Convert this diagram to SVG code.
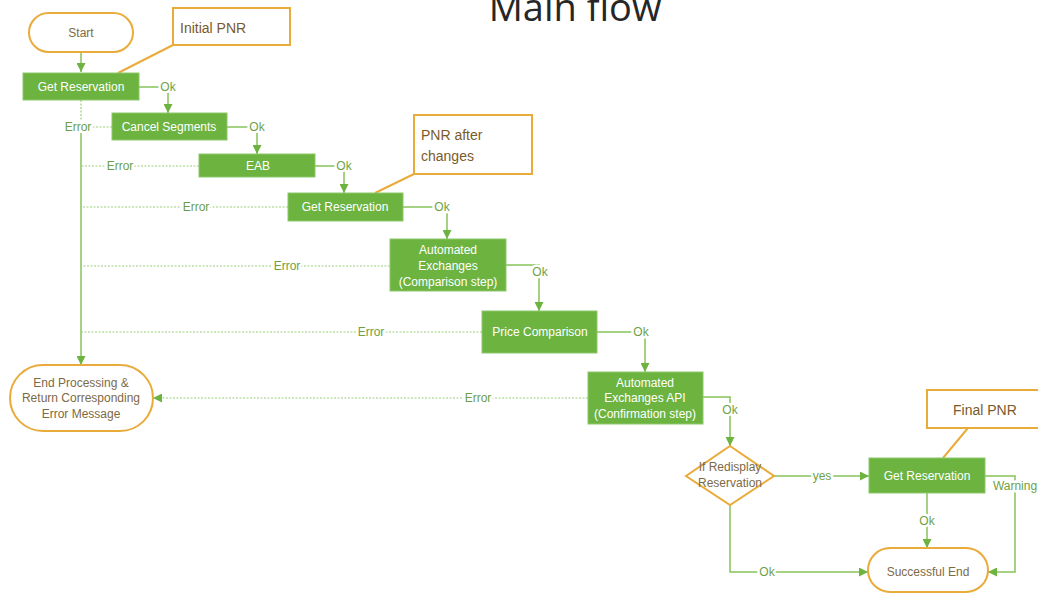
<svg xmlns="http://www.w3.org/2000/svg" width="1038" height="594" viewBox="0 0 1038 594">
<defs>
<marker id="arr" markerUnits="userSpaceOnUse" markerWidth="9" markerHeight="9" refX="9" refY="4.5" orient="auto">
<path d="M0,0 L9,4.5 L0,9 z" fill="#6CB33F"/>
</marker>
<style>
text{font-family:"Liberation Sans",Arial,sans-serif;font-size:12px;text-anchor:middle}
.box{fill:#6CB33F;stroke:#8cc86a;stroke-width:1}
.box-t{fill:#ffffff}
.pill{fill:#ffffff;stroke:#E9AB3A;stroke-width:2}
.pill-t{fill:#7d6a45}
.call{fill:#ffffff;stroke:#E9AB3A;stroke-width:2}
.call-t{fill:#7a5a2a;font-size:14px;text-anchor:start}
.cl{stroke:#E9AB3A;stroke-width:2;fill:none}
.ln{stroke:#86c25a;stroke-width:1.5;fill:none}
.dl{stroke:#9ccf7c;stroke-width:1.2;stroke-dasharray:2 1.5;fill:none}
.lb{fill:#6e9f45;stroke:#ffffff;stroke-width:5;paint-order:stroke;stroke-linejoin:round}
</style>
</defs>
<rect width="1038" height="594" fill="#ffffff"/>
<text x="575" y="21" style="font-family:'Open Sans','Noto Sans',sans-serif;font-size:38px;fill:#262626">Main flow</text>

<g id="connectors">
<path class="ln" d="M81,52 V72" marker-end="url(#arr)"/>
<path class="ln" d="M139,87 H168 V113" marker-end="url(#arr)"/>
<path class="ln" d="M227,127 H257 V154" marker-end="url(#arr)"/>
<path class="ln" d="M315,166 H344 V193" marker-end="url(#arr)"/>
<path class="ln" d="M403,207 H447 V239" marker-end="url(#arr)"/>
<path class="ln" d="M506,265 H539 V311" marker-end="url(#arr)"/>
<path class="ln" d="M597,332 H645 V372" marker-end="url(#arr)"/>
<path class="ln" d="M703,397 H730 V446" marker-end="url(#arr)"/>
<path class="ln" d="M774,476 H869" marker-end="url(#arr)"/>
<path class="ln" d="M730,505 V572 H868" marker-end="url(#arr)"/>
<path class="ln" d="M927,493 V548" marker-end="url(#arr)"/>
<path class="ln" d="M985,476 H1015 V572 H988" marker-end="url(#arr)"/>
<path class="dl" d="M81,100 V121"/>
<path class="ln" d="M81,133 V365" marker-end="url(#arr)"/>
<path class="dl" d="M112,127 H93"/>
<path class="dl" d="M199,166 H81"/>
<path class="dl" d="M288,207 H81"/>
<path class="dl" d="M390,266 H81"/>
<path class="dl" d="M482,332 H81"/>
<path class="dl" d="M588,398 H153" marker-end="url(#arr)"/>
<path class="cl" d="M173,45 L118,73"/>
<path class="cl" d="M414,174 L375,193"/>
<path class="cl" d="M968,428 L943,458"/>
<text class="lb" x="168" y="87" dy="0.35em">Ok</text>
<text class="lb" x="257" y="127" dy="0.35em">Ok</text>
<text class="lb" x="344" y="166" dy="0.35em">Ok</text>
<text class="lb" x="442" y="207" dy="0.35em">Ok</text>
<text class="lb" x="540" y="272" dy="0.35em">Ok</text>
<text class="lb" x="641" y="332" dy="0.35em">Ok</text>
<text class="lb" x="730" y="410" dy="0.35em">Ok</text>
<text class="lb" x="822" y="476" dy="0.35em">yes</text>
<text class="lb" x="767" y="572" dy="0.35em">Ok</text>
<text class="lb" x="927" y="521" dy="0.35em">Ok</text>
<text class="lb" x="1015" y="486" dy="0.35em">Warning</text>
<text class="lb" x="78" y="127" dy="0.35em">Error</text>
<text class="lb" x="120" y="166" dy="0.35em">Error</text>
<text class="lb" x="196" y="207" dy="0.35em">Error</text>
<text class="lb" x="287" y="266" dy="0.35em">Error</text>
<text class="lb" x="371" y="332" dy="0.35em">Error</text>
<text class="lb" x="478" y="398" dy="0.35em">Error</text>
</g>

<g id="start">
<rect class="pill" x="29" y="13" width="104" height="39" rx="19.5"/>
<text class="pill-t" x="81" y="33" dy="0.35em">Start</text>
</g>
<g id="note-initial-pnr">
<rect class="call" x="173" y="8" width="117" height="37"/>
<text class="call-t" x="180" y="28" dy="0.35em">Initial PNR</text>
</g>
<g id="get-reservation-1">
<rect class="box" x="23" y="73" width="116" height="27"/>
<text class="box-t" x="81" y="87" dy="0.35em">Get Reservation</text>
</g>
<g id="cancel-segments">
<rect class="box" x="112" y="113" width="115" height="27"/>
<text class="box-t" x="169" y="127" dy="0.35em">Cancel Segments</text>
</g>
<g id="eab">
<rect class="box" x="199" y="154" width="116" height="23"/>
<text class="box-t" x="258" y="166" dy="0.35em">EAB</text>
</g>
<g id="note-pnr-after">
<rect class="call" x="414" y="115" width="118" height="59"/>
<text class="call-t" x="421" y="135" dy="0.35em">PNR after</text>
<text class="call-t" x="421" y="156" dy="0.35em">changes</text>
</g>
<g id="get-reservation-2">
<rect class="box" x="288" y="193" width="115" height="28"/>
<text class="box-t" x="345" y="207" dy="0.35em">Get Reservation</text>
</g>
<g id="automated-exchanges">
<rect class="box" x="390" y="239" width="116" height="52"/>
<text class="box-t" x="448" y="250" dy="0.35em">Automated</text>
<text class="box-t" x="448" y="266" dy="0.35em">Exchanges</text>
<text class="box-t" x="448" y="282" dy="0.35em">(Comparison step)</text>
</g>
<g id="price-comparison">
<rect class="box" x="482" y="311" width="115" height="42"/>
<text class="box-t" x="540" y="332" dy="0.35em">Price Comparison</text>
</g>
<g id="automated-exchanges-api">
<rect class="box" x="588" y="372" width="115" height="52"/>
<text class="box-t" x="645" y="383" dy="0.35em">Automated</text>
<text class="box-t" x="645" y="398" dy="0.35em">Exchanges API</text>
<text class="box-t" x="645" y="414" dy="0.35em">(Confirmation step)</text>
</g>
<g id="end-processing">
<rect class="pill" x="10" y="365" width="143" height="66" rx="33"/>
<text class="pill-t" x="81" y="383" dy="0.35em">End Processing &amp;</text>
<text class="pill-t" x="81" y="398" dy="0.35em">Return Corresponding</text>
<text class="pill-t" x="81" y="414" dy="0.35em">Error Message</text>
</g>
<g id="if-redisplay">
<polygon class="pill" points="730,446 774,476 730,505 686,476"/>
<text class="pill-t" x="730" y="467" dy="0.35em">If Redisplay</text>
<text class="pill-t" x="730" y="483" dy="0.35em">Reservation</text>
</g>
<g id="note-final-pnr">
<rect class="call" x="927" y="390" width="115" height="38"/>
<text class="call-t" x="953" y="410" dy="0.35em">Final PNR</text>
</g>
<g id="get-reservation-3">
<rect class="box" x="869" y="458" width="116" height="35"/>
<text class="box-t" x="927" y="476" dy="0.35em">Get Reservation</text>
</g>
<g id="successful-end">
<rect class="pill" x="868" y="548" width="120" height="44" rx="22"/>
<text class="pill-t" x="928" y="572" dy="0.35em">Successful End</text>
</g>
</svg>
